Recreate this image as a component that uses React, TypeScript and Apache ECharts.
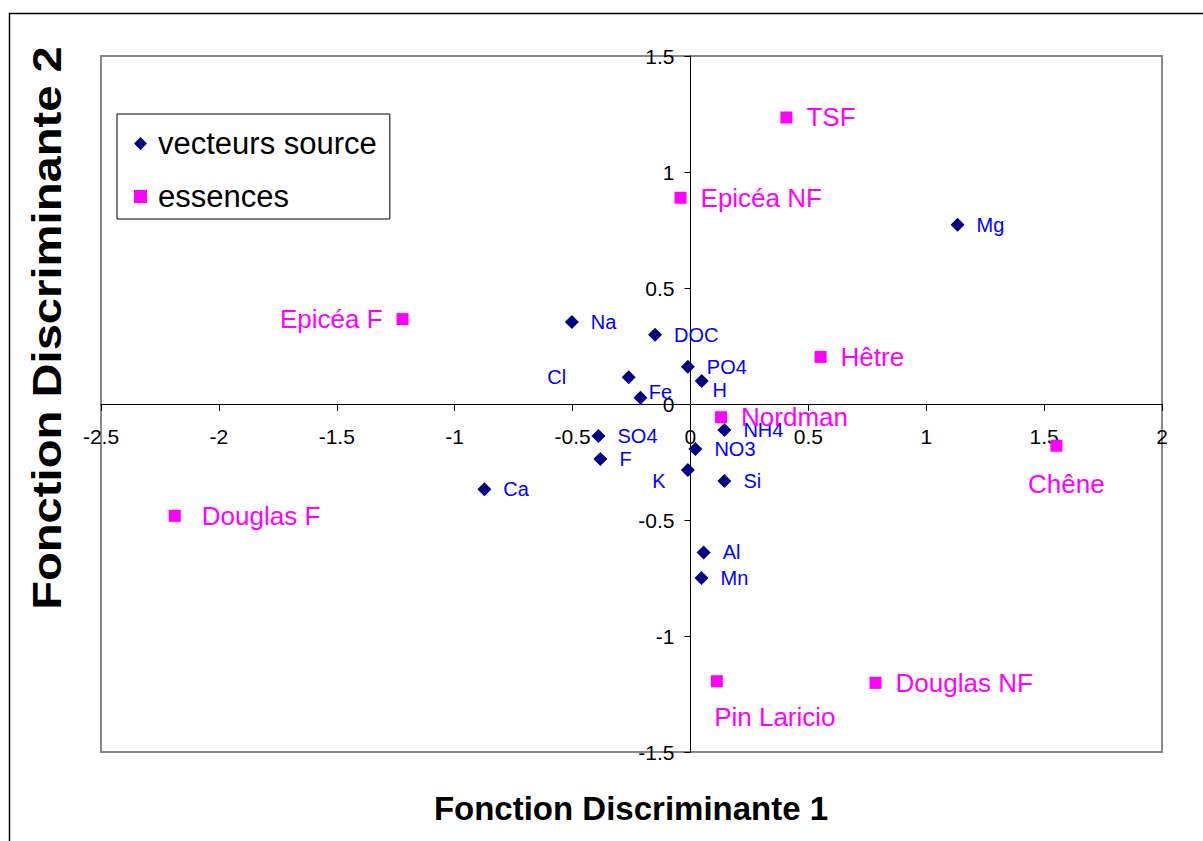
import React, { useEffect, useRef } from "react";
import * as echarts from "echarts";

// ---- Data ----
const sourceNames = ["Mg", "Na", "DOC", "PO4", "H", "Cl", "Fe", "SO4", "F", "K", "NO3", "NH4", "Si", "Ca", "Al", "Mn"];
const sourceX = [1.133, -0.503, -0.15, -0.011, 0.048, -0.262, -0.212, -0.39, -0.382, -0.011, 0.021, 0.144, 0.144, -0.874, 0.056, 0.047];
const sourceY = [0.773, 0.353, 0.299, 0.161, 0.099, 0.115, 0.027, -0.138, -0.237, -0.285, -0.194, -0.112, -0.332, -0.367, -0.64, -0.75];

const speciesNames = ["TSF", "Epicéa NF", "Epicéa F", "Hêtre", "Nordman", "Chêne", "Douglas F", "Pin Laricio", "Douglas NF"];
const speciesX = [0.407, -0.042, -1.221, 0.552, 0.13, 1.552, -2.187, 0.112, 0.785];
const speciesY = [1.235, 0.889, 0.366, 0.203, -0.057, -0.18, -0.482, -1.195, -1.202];

const seriesNames = ["vecteurs source", "essences"];
const xTitle = "Fonction Discriminante 1";
const yTitle = "Fonction Discriminante 2";
const xRange = [-2.5, 2];
const yRange = [-1.5, 1.5];
const tickStep = 0.5;

// ---- Label placement (styles, not data) ----
const labelOverrides: Record<string, any> = {
  Cl: { position: "inside", offset: [-72, 0] },
  K: { position: "inside", offset: [-29, 11] },
  Fe: { position: "inside", offset: [20, -6] },
  H: { position: "inside", offset: [18, 9] },
  "Chêne": { position: "inside", offset: [10, 38] },
  "Pin Laricio": { position: "inside", offset: [58, 36] },
  "Epicéa F": { position: "left" },
  "Douglas F": { distance: 21 },
};

const FONT = "'Liberation Sans', Arial, sans-serif";
const W = 1203;
const H = 841;
const GRID = { left: 101, right: 41, top: 56, bottom: 89 };

export default function App() {
  const ref = useRef<HTMLDivElement>(null);
  useEffect(() => {
    if (!ref.current) return;
    const chart = echarts.init(ref.current, null, { renderer: "svg" });

    const gridW = W - GRID.left - GRID.right;
    const gridH = H - GRID.top - GRID.bottom;
    // move axes so they cross at 0 (labels follow the axis line)
    const xAxisOffset = -((0 - yRange[0]) / (yRange[1] - yRange[0])) * gridH;
    const yAxisOffset = -((0 - xRange[0]) / (xRange[1] - xRange[0])) * gridW;

    const mk = (names: string[], xs: number[], ys: number[]) =>
      names.map((n, i) => ({
        name: n,
        value: [xs[i], ys[i]],
        ...(labelOverrides[n] ? { label: labelOverrides[n] } : {}),
      }));

    chart.setOption({
      animation: false,
      backgroundColor: "#fff",
      textStyle: { fontFamily: FONT },
      grid: {
        ...GRID,
        show: true,
        borderColor: "#888",
        borderWidth: 2,
        backgroundColor: "transparent",
      },
      legend: {
        orient: "vertical",
        left: 117,
        top: 114,
        itemWidth: 13,
        itemHeight: 13,
        itemGap: 22,
        padding: [14, 13, 7, 17],
        borderColor: "#000",
        borderWidth: 1,
        backgroundColor: "#fff",
        textStyle: {
          fontSize: 31,
          color: "#000",
          lineHeight: 30,
          fontFamily: FONT,
          padding: [0, 0, 0, 6],
        },
        data: [
          { name: seriesNames[0], icon: "diamond", itemStyle: { color: "#000080" } },
          { name: seriesNames[1], icon: "rect", itemStyle: { color: "#FF00FF" } },
        ],
      },
      xAxis: {
        type: "value",
        min: xRange[0],
        max: xRange[1],
        interval: tickStep,
        offset: xAxisOffset,
        splitLine: { show: false },
        axisLine: { onZero: false, lineStyle: { color: "#000", width: 1 } },
        axisTick: { length: 7, lineStyle: { color: "#000" } },
        axisLabel: { fontSize: 21, color: "#000", margin: 22, fontFamily: FONT },
      },
      yAxis: {
        type: "value",
        min: yRange[0],
        max: yRange[1],
        interval: tickStep,
        offset: yAxisOffset,
        splitLine: { show: false },
        axisLine: { onZero: false, lineStyle: { color: "#000", width: 1 } },
        axisTick: { length: 6, lineStyle: { color: "#000" } },
        axisLabel: { fontSize: 21, color: "#000", margin: 16, fontFamily: FONT },
      },
      series: [
        {
          name: seriesNames[0],
          type: "scatter",
          symbol: "diamond",
          symbolSize: 14,
          itemStyle: { color: "#000080", opacity: 1 },
          label: {
            show: true,
            formatter: "{b}",
            position: "right",
            distance: 12,
            color: "#0000FF",
            fontSize: 20,
            fontFamily: FONT,
          },
          data: mk(sourceNames, sourceX, sourceY),
        },
        {
          name: seriesNames[1],
          type: "scatter",
          symbol: "rect",
          symbolSize: 12,
          itemStyle: { color: "#FF00FF", opacity: 1 },
          label: {
            show: true,
            formatter: "{b}",
            position: "right",
            distance: 14,
            color: "#FF00FF",
            fontSize: 26,
            fontFamily: FONT,
          },
          data: mk(speciesNames, speciesX, speciesY),
        },
      ],
      graphic: [
        {
          type: "rect",
          silent: true,
          shape: { x: 9.5, y: 13.5, width: 1300, height: 1000 },
          style: { fill: "none", stroke: "#000", lineWidth: 1.5 },
          z: -10,
        },
        {
          type: "text",
          x: 631,
          y: 808,
          style: {
            text: xTitle,
            font: `bold 33px ${FONT}`,
            fill: "#000",
            textAlign: "center",
            textVerticalAlign: "middle",
          },
        },
        {
          type: "text",
          x: 47,
          y: 328,
          rotation: Math.PI / 2,
          scaleX: 1.18,
          style: {
            text: yTitle,
            font: `bold 40px ${FONT}`,
            fill: "#000",
            textAlign: "center",
            textVerticalAlign: "middle",
          },
        },
      ],
    });
    return () => chart.dispose();
  }, []);

  return (
    <div
      ref={ref}
      style={{ position: "fixed", left: 0, top: 0, width: W, height: H }}
    />
  );
}
